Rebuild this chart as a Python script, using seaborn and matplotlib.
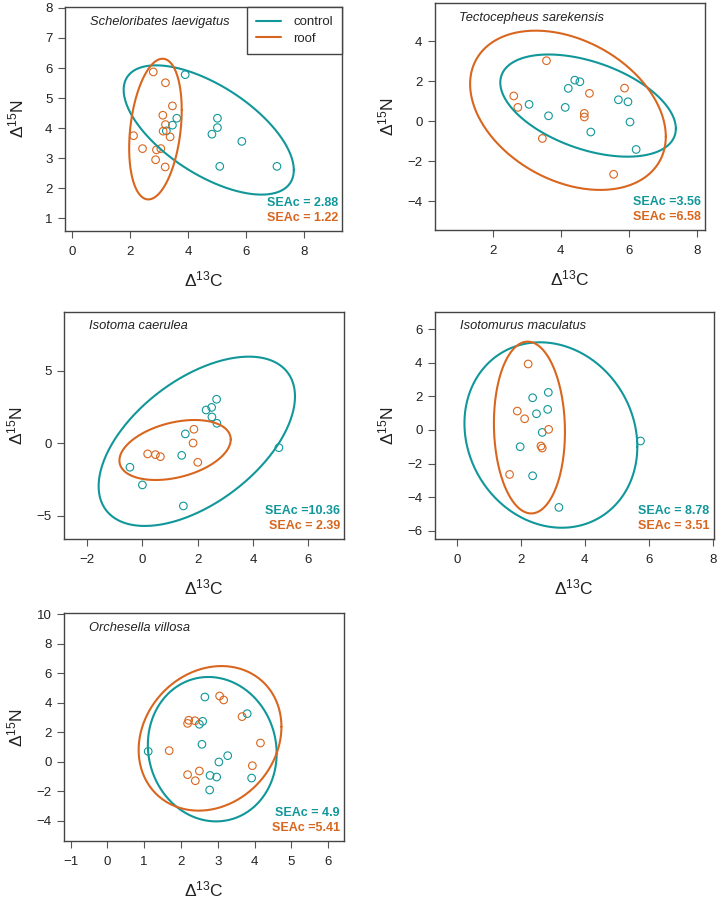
import numpy as np
import pandas as pd
import matplotlib
matplotlib.use("Agg")
import matplotlib.pyplot as plt
from matplotlib.lines import Line2D
import seaborn as sns

# colours for the two treatments
teal = '#11979A'
orange = '#D9661F'

# Scheloribates laevigatus
sl_ctrl_x = [3.90, 3.61, 3.46, 3.25, 5.01, 5.01, 4.82, 5.85, 5.09, 7.06]
sl_ctrl_y = [5.78, 4.33, 4.10, 3.91, 4.33, 4.02, 3.80, 3.56, 2.73, 2.73]
sl_roof_x = [2.80, 3.22, 3.46, 3.13, 3.22, 3.14, 3.38, 2.12, 2.43, 2.91, 3.06, 2.88, 3.21]
sl_roof_y = [5.87, 5.51, 4.74, 4.43, 4.12, 3.90, 3.71, 3.75, 3.32, 3.28, 3.32, 2.95, 2.71]

# Tectocepheus sarekensis
ts_ctrl_x = [4.41, 4.56, 4.22, 3.07, 4.13, 3.64, 5.69, 5.97, 6.03, 4.88, 6.21]
ts_ctrl_y = [2.05, 1.97, 1.64, 0.84, 0.69, 0.27, 1.07, 0.97, -0.04, -0.54, -1.41]
ts_roof_x = [3.58, 2.62, 2.74, 4.84, 4.69, 4.69, 5.87, 3.46, 5.55]
ts_roof_y = [3.02, 1.26, 0.69, 1.39, 0.39, 0.21, 1.65, -0.86, -2.65]

# Isotoma caerulea
ic_ctrl_x = [2.69, 2.31, 2.51, 2.52, 2.70, 1.56, 1.43, -0.44, 0.01, 1.49, 4.94]
ic_ctrl_y = [3.05, 2.31, 2.49, 1.83, 1.39, 0.66, -0.82, -1.64, -2.86, -4.31, -0.29]
ic_roof_x = [1.87, 1.84, 2.01, 0.20, 0.48, 0.66]
ic_roof_y = [0.98, 0.03, -1.30, -0.72, -0.77, -0.91]

# Isotomurus maculatus
im_ctrl_x = [2.86, 2.37, 2.84, 2.49, 2.67, 1.98, 2.37, 3.19, 5.74]
im_ctrl_y = [2.23, 1.91, 1.22, 0.96, -0.15, -1.00, -2.73, -4.61, -0.66]
im_roof_x = [2.23, 1.89, 2.12, 2.87, 2.63, 2.67, 1.65]
im_roof_y = [3.92, 1.12, 0.66, 0.03, -0.96, -1.08, -2.65]

# Orchesella villosa
ov_ctrl_x = [2.65, 2.59, 2.50, 3.80, 2.57, 1.11, 3.27, 3.03, 2.79, 2.97, 3.92, 2.78]
ov_ctrl_y = [4.39, 2.74, 2.54, 3.26, 1.18, 0.70, 0.41, -0.02, -0.93, -1.04, -1.11, -1.92]
ov_roof_x = [3.05, 3.16, 2.21, 2.38, 2.18, 3.66, 4.16, 1.68, 3.94, 2.18, 2.50, 2.39]
ov_roof_y = [4.46, 4.19, 2.81, 2.78, 2.60, 3.06, 1.27, 0.75, -0.27, -0.88, -0.63, -1.29]

# standard ellipses: centre x, centre y, half range x, half range y, correlation
sl_ell = [(4.71, 3.94, 2.93, 2.15, -0.62), (2.875, 3.97, 0.905, 2.34, 0.27)]
ts_ell = [(4.80, 0.78, 2.575, 2.55, -0.45), (4.21, 0.545, 2.87, 3.975, -0.33)]
ic_ell = [(1.975, 0.15, 3.545, 5.84, 0.53), (1.19, -0.45, 2.01, 2.07, 0.35)]
im_ell = [(2.94, -0.305, 2.70, 5.515, -0.126), (2.27, 0.14, 1.11, 5.11, -0.05)]
ov_ell = [(2.85, 0.85, 1.75, 4.90, -0.06), (2.79, 1.585, 1.94, 4.905, 0.16)]

seac = {
    'sl': ['SEAc = 2.88', 'SEAc = 1.22'],
    'ts': ['SEAc =3.56', 'SEAc =6.58'],
    'ic': ['SEAc =10.36', 'SEAc = 2.39'],
    'im': ['SEAc = 8.78', 'SEAc = 3.51'],
    'ov': ['SEAc = 4.9', 'SEAc =5.41'],
}

sns.set_style("white")
plt.rcParams['font.family'] = ['Liberation Sans', 'DejaVu Sans']
plt.rcParams['mathtext.fontset'] = 'custom'
plt.rcParams['mathtext.rm'] = 'Liberation Sans'
plt.rcParams['mathtext.it'] = 'Liberation Sans:italic'

fig = plt.figure(figsize=(7.18, 8.99), dpi=100)

# panel boxes in figure pixels: left, right, top, bottom
W, H = 718, 899
boxes = {
    'sl': (65, 342, 7, 231),
    'ts': (435, 705, 3, 230),
    'ic': (64.3, 344, 311.7, 539),
    'im': (435, 713.5, 311.7, 539),
    'ov': (64.3, 344, 613.3, 841),
}

panels = [
    ('sl', 'Scheloribates laevigatus', sl_ctrl_x, sl_ctrl_y, sl_roof_x, sl_roof_y, sl_ell,
     (-0.24, 9.3), (0.58, 8.03), [0, 2, 4, 6, 8], [1, 2, 3, 4, 5, 6, 7, 8]),
    ('ts', 'Tectocepheus sarekensis', ts_ctrl_x, ts_ctrl_y, ts_roof_x, ts_roof_y, ts_ell,
     (0.31, 8.23), (-5.43, 5.9), [2, 4, 6, 8], [-4, -2, 0, 2, 4]),
    ('ic', 'Isotoma caerulea', ic_ctrl_x, ic_ctrl_y, ic_roof_x, ic_roof_y, ic_ell,
     (-2.81, 7.29), (-6.59, 9.09), [-2, 0, 2, 4, 6], [-5, 0, 5]),
    ('im', 'Isotomurus maculatus', im_ctrl_x, im_ctrl_y, im_roof_x, im_roof_y, im_ell,
     (-0.68, 8.02), (-6.49, 7.03), [0, 2, 4, 6, 8], [-6, -4, -2, 0, 2, 4, 6]),
    ('ov', 'Orchesella villosa', ov_ctrl_x, ov_ctrl_y, ov_roof_x, ov_roof_y, ov_ell,
     (-1.17, 6.43), (-5.38, 10.07), [-1, 0, 1, 2, 3, 4, 5, 6], [-4, -2, 0, 2, 4, 6, 8, 10]),
]

t = np.linspace(0, 2 * np.pi, 300)

for key, name, cx_, cy_, rx_, ry_, ells, xl, yl, xt, yt in panels:
    l, r, tp, b = boxes[key]
    ax = fig.add_axes([l / W, (H - b) / H, (r - l) / W, (b - tp) / H])
    wpx = r - l
    hpx = b - tp

    for xs, ys, col in [(cx_, cy_, teal), (rx_, ry_, orange)]:
        df = pd.DataFrame({'x': xs, 'y': ys})
        sns.scatterplot(data=df, x='x', y='y', ax=ax, marker='o', s=30,
                        color=col, facecolors='none', edgecolors=col, linewidths=0.8)

    for (ex, ey, sx, sy, rho), col in zip(ells, [teal, orange]):
        ax.plot(ex + sx * np.cos(t),
                ey + sy * (rho * np.cos(t) + np.sqrt(1 - rho ** 2) * np.sin(t)),
                color=col, lw=1.5)

    ax.set_xlim(*xl)
    ax.set_ylim(*yl)
    ax.set_xticks(xt)
    ax.set_yticks(yt)
    ax.set_xticklabels([str(v) if v >= 0 else '\u2212' + str(-v) for v in xt])
    ax.set_yticklabels([str(v) if v >= 0 else '\u2212' + str(-v) for v in yt])
    ax.tick_params(direction='out', length=5, width=0.8, color='#555555',
                   labelsize=9.5, labelcolor='#222222')
    ax.tick_params(axis='x', pad=6)
    ax.tick_params(axis='y', pad=4)
    ax.xaxis.set_ticks_position('bottom')
    ax.yaxis.set_ticks_position('left')
    for sp in ax.spines.values():
        sp.set_color('#444444')
        sp.set_linewidth(1.0)

    ax.set_xlabel('\u0394$^{13}$C', fontsize=12.5, color='#222222')
    ax.set_ylabel('\u0394$^{15}$N', fontsize=12.5, color='#222222')
    ax.xaxis.set_label_coords(0.5, -48 / hpx)
    ax.yaxis.set_label_coords(-49 / wpx, 0.5)
    ax.xaxis.label.set_va('center')
    ax.yaxis.label.set_va('center')

    ax.text(0.09, 0.935, name, transform=ax.transAxes, style='italic',
            fontsize=9.3, va='center', ha='left', color='#222222')
    ax.text(0.985, 0.125, seac[key][0], transform=ax.transAxes, fontsize=9,
            fontweight='bold', color=teal, ha='right', va='center')
    ax.text(0.985, 0.058, seac[key][1], transform=ax.transAxes, fontsize=9,
            fontweight='bold', color=orange, ha='right', va='center')

    if key == 'sl':
        handles = [Line2D([0], [0], color=teal, lw=1.5),
                   Line2D([0], [0], color=orange, lw=1.5)]
        leg = ax.legend(handles, ['control', 'roof'], loc='upper right',
                        borderaxespad=0, fancybox=False, framealpha=1,
                        edgecolor='#444444', fontsize=9.5, handlelength=1.9,
                        handletextpad=0.9, borderpad=0.7, labelspacing=0.3)
        leg.get_frame().set_linewidth(1.0)

fig.savefig('out.png', dpi=100)
